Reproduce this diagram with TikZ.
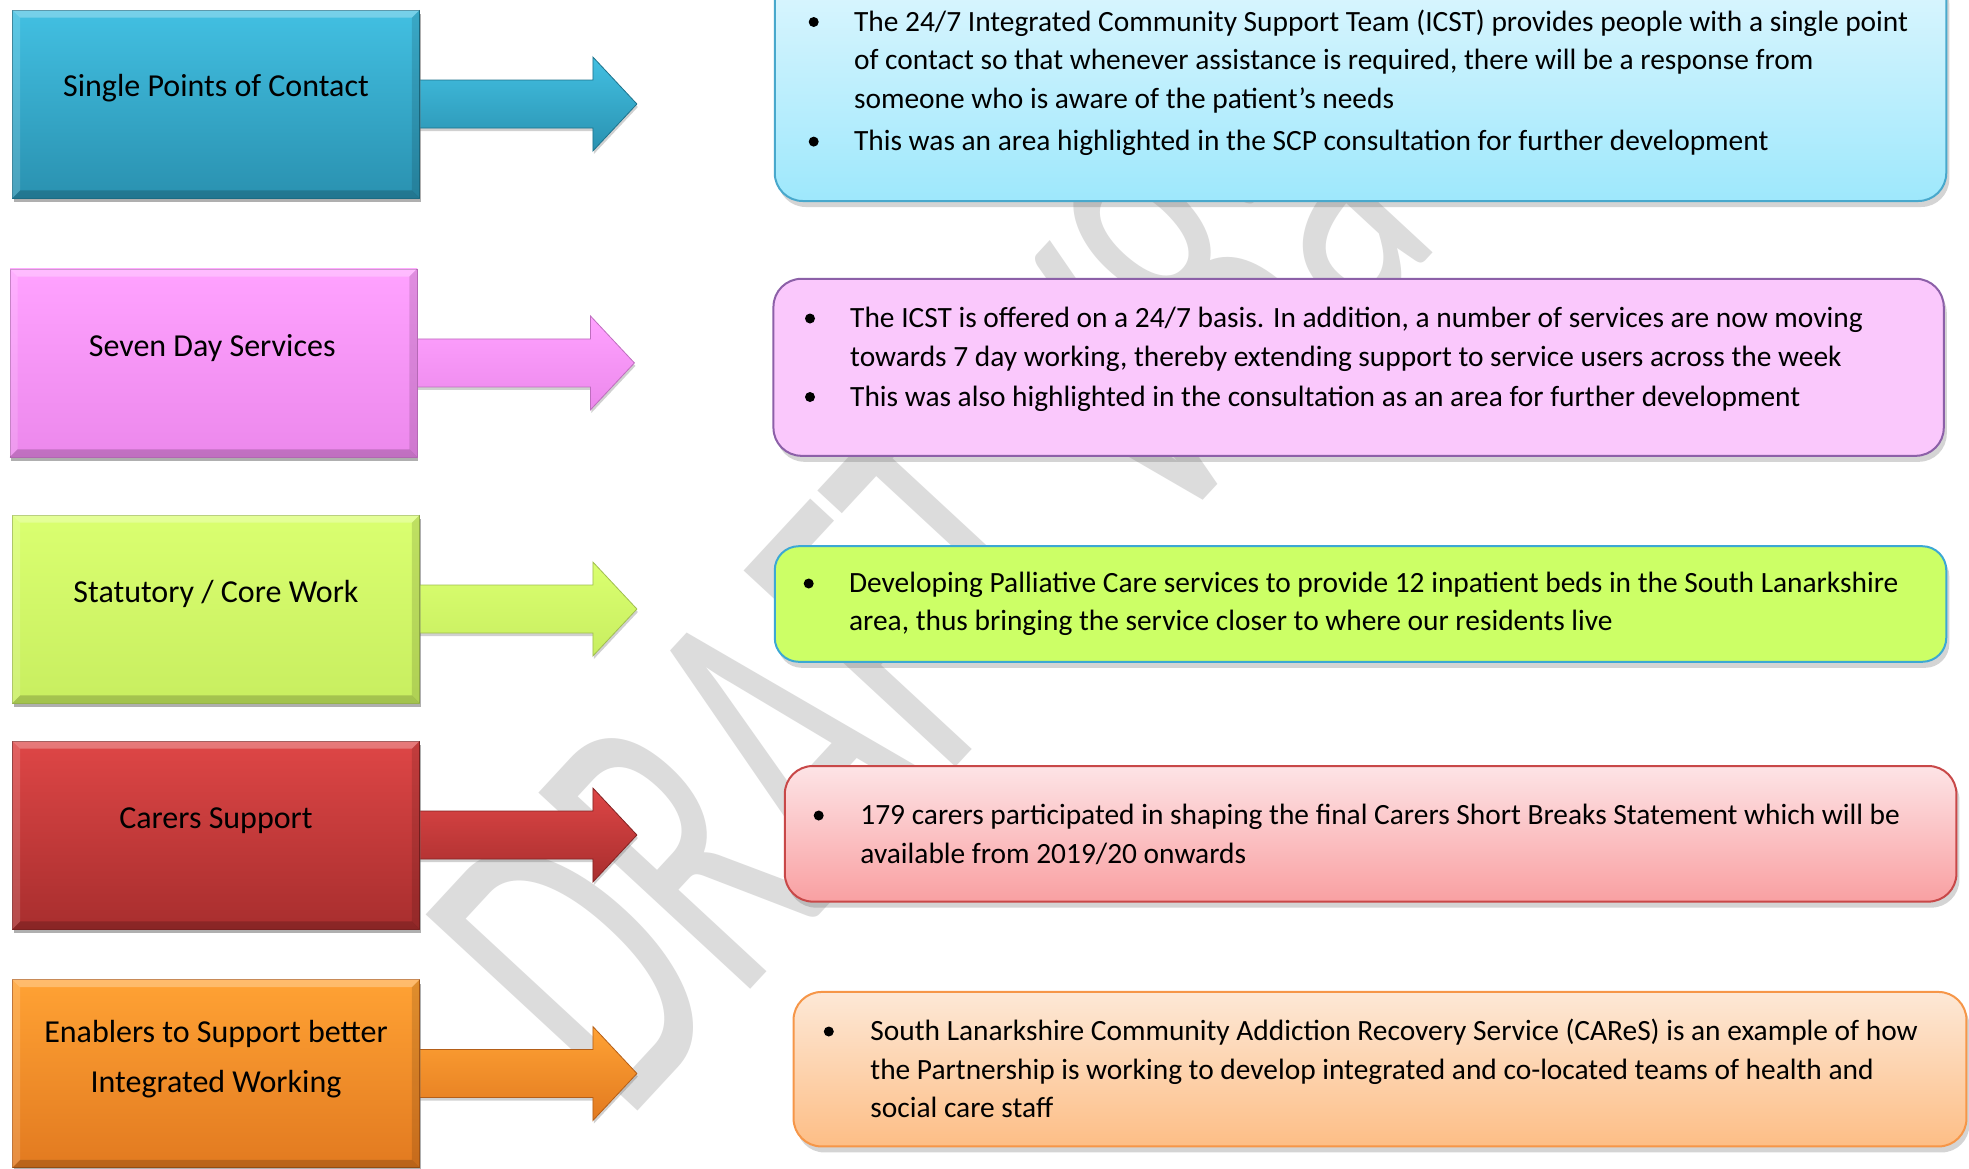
\documentclass[tikz,border=0pt]{standalone}
\usepackage{fontspec}
\setmainfont{Carlito}
\usetikzlibrary{shadows,calc}

\definecolor{b1t}{RGB}{66,192,226}  \definecolor{b1b}{RGB}{42,145,176}  \definecolor{b1d}{RGB}{30,115,140}
\definecolor{b2t}{RGB}{255,162,255} \definecolor{b2b}{RGB}{236,136,236} \definecolor{b2d}{RGB}{190,110,190}
\definecolor{b3t}{RGB}{218,255,112} \definecolor{b3b}{RGB}{200,238,96}  \definecolor{b3d}{RGB}{160,190,80}
\definecolor{b4t}{RGB}{222,70,70}   \definecolor{b4b}{RGB}{168,46,46}   \definecolor{b4d}{RGB}{130,35,35}
\definecolor{b5t}{RGB}{255,162,52}  \definecolor{b5b}{RGB}{226,122,32}  \definecolor{b5d}{RGB}{180,95,25}

\definecolor{r1t}{RGB}{222,246,254} \definecolor{r1b}{RGB}{158,232,252} \definecolor{r1d}{RGB}{72,168,204}
\definecolor{r2t}{RGB}{250,200,252} \definecolor{r2d}{RGB}{140,96,168}
\definecolor{r3t}{RGB}{204,255,102} \definecolor{r3d}{RGB}{60,168,212}
\definecolor{r4t}{RGB}{253,228,230} \definecolor{r4b}{RGB}{249,160,162} \definecolor{r4d}{RGB}{200,72,72}
\definecolor{r5t}{RGB}{253,232,214} \definecolor{r5b}{RGB}{253,190,134} \definecolor{r5d}{RGB}{246,150,72}
\definecolor{wmgray}{RGB}{220,220,220}

\tikzset{
  lbox/.style={rectangle, inner sep=0pt, minimum width=407pt, minimum height=188pt,
    line width=0.8pt, drop shadow={shadow xshift=1pt, shadow yshift=-4pt, opacity=0.3, fill=black!60}},
  rbox/.style={rectangle, rounded corners=28pt, inner sep=0pt, line width=2pt,
    drop shadow={shadow xshift=3pt, shadow yshift=-6pt, opacity=0.28, fill=black!60}},
  lbl/.style={font=\fontsize{32}{50}\selectfont, align=center, inner sep=0pt, text=black},
  txt/.style={font=\fontsize{29.4}{38.5}\selectfont, inner sep=0pt, anchor=base west, text=black},
  bul/.style={circle, fill=black, inner sep=0pt, minimum size=10pt},
  wm/.style={font=\fontsize{450}{450}\selectfont, text=wmgray, inner sep=0pt,
    anchor=base west, rotate=47.2, xscale=0.6}
}

% block arrow leaving a left box: #1 node, #2 colour prefix
\newcommand\blockarrow[2]{%
  \path[top color=#2t, bottom color=#2b, draw=#2d, line width=0.8pt,
        drop shadow={shadow xshift=1pt, shadow yshift=-3pt, opacity=0.3, fill=black!60}]
    ($(#1.east)+(-12,-24)$) -- ($(#1.east)+(173,-24)$) -- ($(#1.east)+(173,-47)$)
    -- ($(#1.east)+(217,0)$) -- ($(#1.east)+(173,47)$) -- ($(#1.east)+(173,24)$)
    -- ($(#1.east)+(-12,24)$) -- cycle;}

% bevel on a left box
\newcommand\bevel[1]{%
  \fill[white, opacity=0.28] (#1.north west) -- (#1.north east) -- ($(#1.north east)+(-8,8)$) -- ($(#1.north west)+(8,8)$) -- cycle;
  \fill[white, opacity=0.15] (#1.north west) -- ($(#1.north west)+(8,8)$) -- ($(#1.south west)+(8,-8)$) -- (#1.south west) -- cycle;
  \fill[black, opacity=0.12] (#1.north east) -- ($(#1.north east)+(-8,8)$) -- ($(#1.south east)+(-8,-8)$) -- (#1.south east) -- cycle;
  \fill[black, opacity=0.18] (#1.south west) -- (#1.south east) -- ($(#1.south east)+(-8,-8)$) -- ($(#1.south west)+(8,-8)$) -- cycle;}

\begin{document}
\begin{tikzpicture}[x=1pt, y=-1pt]
\useasboundingbox (0,0) rectangle (1969,1168);
\fill[white] (0,0) rectangle (1969,1168);

% watermark, letter by letter along a rising baseline
\begin{scope}[shift={(625,1125)}, rotate=47.2]
  \node[wm] (wD) at (0,0) {D};
  \node[wm] (wR) at (166,0) {R};
  \node[wm] (wA) at (312.6,0) {A};
  \node[wm] (wF) at (468.9,0) {F};
  \node[wm] (wT) at (592.8,0) {T};
  \node[wm] (wV) at (785.3,0) {V};
  \node[wm] (w8) at (938.9,0) {8};
  \node[wm] (wa) at (1075.8,0) {a};
\end{scope}

% ---------- left boxes with arrows ----------
\coordinate (c1) at (216,104);
\coordinate (c2) at (213.5,362.9);
\coordinate (c3) at (216,609);
\coordinate (c4) at (216,835);
\coordinate (c5) at (216,1073.5);

\path (c1) node[lbox] (L1) {};
\path (c2) node[lbox] (L2) {};
\path (c3) node[lbox] (L3) {};
\path (c4) node[lbox] (L4) {};
\path (c5) node[lbox] (L5) {};

\blockarrow{L1}{b1}
\blockarrow{L2}{b2}
\blockarrow{L3}{b3}
\blockarrow{L4}{b4}
\blockarrow{L5}{b5}

\path (c1) node[lbox, top color=b1t, bottom color=b1b, draw=b1d] (L1f) {};
\path (c2) node[lbox, top color=b2t, bottom color=b2b, draw=b2d] (L2f) {};
\path (c3) node[lbox, top color=b3t, bottom color=b3b, draw=b3d] (L3f) {};
\path (c4) node[lbox, top color=b4t, bottom color=b4b, draw=b4d] (L4f) {};
\path (c5) node[lbox, top color=b5t, bottom color=b5b, draw=b5d] (L5f) {};
\bevel{L1f}\bevel{L2f}\bevel{L3f}\bevel{L4f}\bevel{L5f}

\node[lbl] (L1t) at (216,88.5) {Single Points of Contact};
\node[lbl] (L2t) at (212.2,348.3) {Seven Day Services};
\node[lbl] (L3t) at (216,594.4) {Statutory / Core Work};
\node[lbl] (L4t) at (216,820.5) {Carers Support};
\node[lbl] (L5t) at (216,1059) {Enablers to Support better\\Integrated Working};

% ---------- right boxes ----------
\node[rbox, minimum width=1171.5pt, minimum height=231pt, top color=r1t, bottom color=r1b, draw=r1d] (R1) at (1360.5,85.5) {};
\node[rbox, minimum width=1170.3pt, minimum height=177pt, fill=r2t, draw=r2d] (R2) at (1358.6,367.3) {};
\node[rbox, minimum width=1171.5pt, minimum height=115.6pt, fill=r3t, draw=r3d, rounded corners=24pt] (R3) at (1360.5,604) {};
\node[rbox, minimum width=1171.6pt, minimum height=135.6pt, top color=r4t, bottom color=r4b, draw=r4d] (R4) at (1370.6,833.8) {};
\node[rbox, minimum width=1172.9pt, minimum height=154.5pt, top color=r5t, bottom color=r5b, draw=r5d] (R5) at (1380,1069.2) {};

% box 1
\node[bul] (b11) at (813.7,22) {};
\node[txt] (t11) at (853.9,31.3) {The 24/7 Integrated Community Support Team (ICST) provides people with a single point};
\node[txt] (t12) at (853.9,69.6) {of contact so that whenever assistance is required, there will be a response from};
\node[txt] (t13) at (853.9,108) {someone who is aware of the patient’s needs};
\node[bul] (b12) at (813.7,141.6) {};
\node[txt] (t14) at (853.9,150.6) {This was an area highlighted in the SCP consultation for further development};

% box 2
\node[bul] (b21) at (810,318.5) {};
\node[txt] (t21) at (850,327.5) {The ICST is offered on a 24/7 basis. In addition, a number of services are now moving};
\node[txt] (t22) at (850,366) {towards 7 day working, thereby extending support to service users across the week};
\node[bul] (b22) at (810,397) {};
\node[txt] (t23) at (850,406) {This was also highlighted in the consultation as an area for further development};

% box 3
\node[bul] (b31) at (808.7,583.5) {};
\node[txt] (t31) at (848.9,592.5) {Developing Palliative Care services to provide 12 inpatient beds in the South Lanarkshire};
\node[txt] (t32) at (848.9,630) {area, thus bringing the service closer to where our residents live};

% box 4
\node[bul] (b41) at (818.7,815.5) {};
\node[txt] (t41) at (860.2,824.5) {179 carers participated in shaping the final Carers Short Breaks Statement which will be};
\node[txt] (t42) at (860.2,863.5) {available from 2019/20 onwards};

% box 5
\node[bul] (b51) at (828.8,1031.5) {};
\node[txt] (t51) at (870.2,1040.5) {South Lanarkshire Community Addiction Recovery Service (CAReS) is an example of how};
\node[txt] (t52) at (870.2,1079.5) {the Partnership is working to develop integrated and co-located teams of health and};
\node[txt] (t53) at (870.2,1117.5) {social care staff};
\end{tikzpicture}
\end{document}
